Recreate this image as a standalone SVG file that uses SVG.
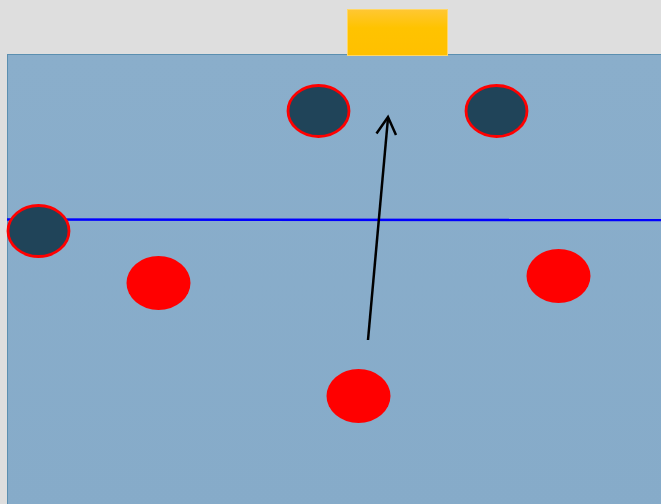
<svg xmlns="http://www.w3.org/2000/svg" width="661" height="504" viewBox="0 0 661 504">
<defs>
<linearGradient id="gold" x1="0" y1="0" x2="0" y2="1">
<stop offset="0" stop-color="#ffc733"/>
<stop offset="0.4" stop-color="#ffc300"/>
<stop offset="1" stop-color="#ffc000"/>
</linearGradient>
<linearGradient id="water" x1="0" y1="0" x2="0" y2="1">
<stop offset="0" stop-color="#8aaecb"/>
<stop offset="1" stop-color="#86abc9"/>
</linearGradient>
<style>
.dark{fill:#204459;stroke:#ff0000;stroke-width:2.8}
.red{fill:#ff0000}
</style>
</defs>
<rect width="661" height="504" fill="#dedede"/>
<g id="pool"><rect x="7.5" y="54.5" width="660" height="460" fill="url(#water)" stroke="#5b8fb0" stroke-width="1"/></g>
<g id="goal"><rect x="347.5" y="9.5" width="100" height="46" fill="url(#gold)" stroke="#ffd766" stroke-width="1"/></g>
<g id="connectors">
<line x1="7" y1="219.5" x2="661" y2="220" stroke="#0000ff" stroke-width="2.5"/>
<line x1="368" y1="340" x2="388" y2="118" stroke="#000" stroke-width="2.5"/>
<polyline points="376.5,133.5 388,117 396,135" fill="none" stroke="#000" stroke-width="2.5"/>
</g>
<g id="d1"><ellipse class="dark" cx="318.5" cy="111" rx="30.5" ry="25.5"/></g>
<g id="d2"><ellipse class="dark" cx="496.5" cy="111" rx="30.5" ry="25.5"/></g>
<g id="d3"><ellipse class="dark" cx="38.5" cy="231" rx="30.5" ry="25.5"/></g>
<g id="r1"><ellipse class="red" cx="158.5" cy="283" rx="32" ry="27"/></g>
<g id="r2"><ellipse class="red" cx="558.5" cy="276" rx="32" ry="27"/></g>
<g id="r3"><ellipse class="red" cx="358.5" cy="396" rx="32" ry="27"/></g>
</svg>
